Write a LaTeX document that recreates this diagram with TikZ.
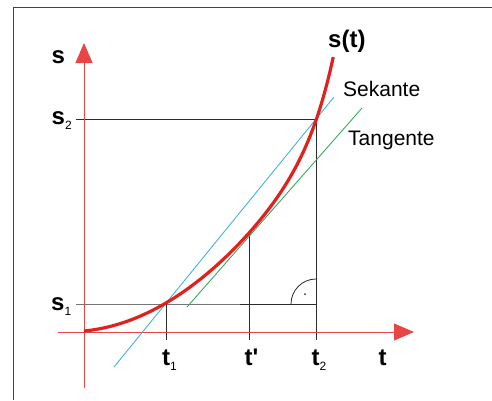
\documentclass[tikz,border=0pt]{standalone}
\usepackage{fontspec}
\setmainfont{Liberation Sans}
\usetikzlibrary{arrows.meta}
\definecolor{curvered}{RGB}{222,34,30}
\definecolor{axisred}{RGB}{232,70,70}
\definecolor{secblue}{RGB}{50,170,230}
\definecolor{tangreen}{RGB}{40,165,80}
\definecolor{guide}{RGB}{45,45,45}
\tikzset{
  axis/.style={axisred, line width=1pt, -{Triangle[length=20pt,width=17pt]}},
  guideline/.style={guide, line width=1pt},
  bigl/.style={anchor=base west, inner sep=0pt, font=\fontsize{24}{24}\selectfont\bfseries},
  smalll/.style={anchor=base west, inner sep=0pt, font=\fontsize{21}{21}\selectfont},
}
\newcommand{\sub}[1]{{\fontsize{12}{12}\selectfont\mdseries\raisebox{-5pt}{#1}}}
\begin{document}
\begin{tikzpicture}[x=1pt,y=-1pt]
\useasboundingbox (0,0) rectangle (492,400);
\fill[white] (0,0) rectangle (492,400);
\draw[guide!90, line width=1.5pt] (13.5,400) -- (13.5,7.5) -- (492,7.5);
% named points
\coordinate (O) at (84,332);
\coordinate (P1) at (166,304);
\coordinate (Pm) at (249,233);
\coordinate (P2) at (316,119);
% guide lines
\draw[guideline] (76,304) -- (P1) -- (316,304);
\draw[guideline] (76,119) -- (P2);
\draw[guideline] (166,340) -- (P1);
\draw[guideline] (249,340) -- (Pm);
\draw[guideline] (316,340) -- (P2);
% right angle
\draw[guide, line width=0.8pt] (316,279) arc[start angle=-90, end angle=-180, radius=25];
\fill[guide] (305,294) circle (1pt);
% axes
\draw[axis] (84,388) -- (84,43);
\draw[axis] (58,332) -- (414,332);
% secant and tangent
\draw[secblue, line width=0.8pt] (114,367) -- (334,97);
\draw[tangreen, line width=0.8pt] (187,307) -- (362,108);
% curve
\draw[curvered, line width=3.2pt, line cap=butt] plot[domain=0:1.01, samples=90, smooth]
  ({84+247*\x}, {331-(23.7*\x+183.2*\x*\x+57*\x^12)});
% labels
\node[bigl] (ls) at (51.5,63.5) {s};
\node[bigl] (ls2) at (51.5,124.5) {s\sub{2}};
\node[bigl] (ls1) at (51,310) {s\sub{1}};
\node[bigl] (lt1) at (162,365.5) {t\sub{1}};
\node[bigl] (ltm) at (244.5,365.5) {t\textquotesingle};
\node[bigl] (lt2) at (311.5,365.5) {t\sub{2}};
\node[bigl] (lt) at (378.5,365.5) {t};
\node[bigl] (lst) at (328,47) {s(t)};
\node[smalll] (lsek) at (343,96.5) {Sekante};
\node[smalll] (ltan) at (348,145.5) {Tangente};
\end{tikzpicture}
\end{document}
